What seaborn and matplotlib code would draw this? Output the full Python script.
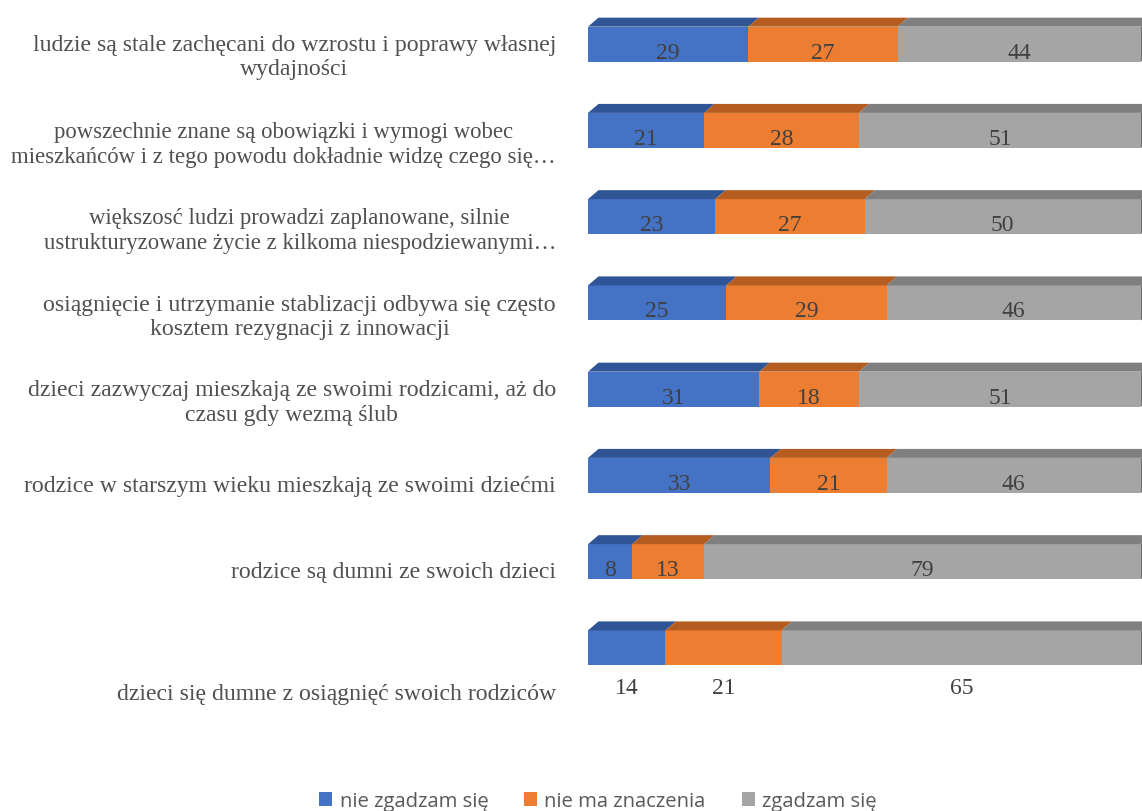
import numpy as np
import pandas as pd
import matplotlib.pyplot as plt
import seaborn as sns
from matplotlib.patches import Polygon
from matplotlib.transforms import ScaledTranslation

W, H = 1142, 812

statements = [
    "ludzie są stale zachęcani do wzrostu i poprawy własnej\nwydajności",
    "powszechnie znane są obowiązki i wymogi wobec\nmieszkańców i z tego powodu dokładnie widzę czego się…",
    "większosć ludzi prowadzi zaplanowane, silnie\nustrukturyzowane życie z kilkoma niespodziewanymi…",
    "osiągnięcie i utrzymanie stablizacji odbywa się często\nkosztem rezygnacji z innowacji",
    "dzieci zazwyczaj mieszkają ze swoimi rodzicami, aż do\nczasu gdy wezmą ślub",
    "rodzice w starszym wieku mieszkają ze swoimi dziećmi",
    "rodzice są dumni ze swoich dzieci",
    "dzieci się dumne z osiągnięć swoich rodziców",
]
disagree = [29, 21, 23, 25, 31, 33, 8, 14]
neutral = [27, 28, 27, 29, 18, 21, 13, 21]
agree = [44, 51, 50, 46, 51, 46, 79, 65]

series_names = ["nie zgadzam się", "nie ma znaczenia", "zgadzam się"]
front_colors = ["#4472C4", "#ED7D31", "#A5A5A5"]
top_colors = ["#2F5597", "#B55D21", "#7F7F7F"]

# how far labels sit below the bar centre, in pixels
label_drop = [8, 9.5, 9, 9.5, 8.5, 8, 7, 43]
value_drop = [8, 8, 8, 8, 8, 8, 8, 40]
label_size = [17.1, 16.4, 16.4, 17.1, 17.1, 17.1, 17.1, 17.1]

plt.rcParams['font.family'] = ['Liberation Serif', 'DejaVu Sans']

df = pd.DataFrame({"statement": statements, "disagree": disagree,
                   "neutral": neutral, "agree": agree})
cols = ["disagree", "neutral", "agree"]
lefts = df[cols].cumsum(axis=1).shift(1, axis=1).fillna(0)

fig = plt.figure(figsize=(W / 100, H / 100), dpi=100)
ax = fig.add_axes([588 / W, 1 - 692 / H, 553 / W, 690 / H])

for col, name, color in zip(cols, series_names, front_colors):
    sns.barplot(data=df, x=col, y="statement", left=lefts[col].values, color=color,
                saturation=1, width=0.405, label=name, ax=ax, legend=False, linewidth=0)

ax.set_xlim(0, 100)
ax.set_ylim(7.5, -0.5)
ax.set_xlabel("")
ax.set_ylabel("")
ax.xaxis.set_visible(False)
sns.despine(ax=ax, left=True, bottom=True)
ax.tick_params(axis="y", length=0, pad=23)

for lab, drop, size in zip(ax.get_yticklabels(), label_drop, label_size):
    lab.set_fontsize(size)
    lab.set_color("#505050")
    lab.set_multialignment("center")
    lab.set_linespacing(1.22)
    lab.set_transform(lab.get_transform() + ScaledTranslation(0, -drop / 100, fig.dpi_scale_trans))

# fake 3d: top face and right side built from the drawn bars
dx = 10.5 * 100 / 553
dy = 9 / 86.25
for container, top_c in zip(ax.containers, top_colors):
    for bar in container:
        x0, x1 = bar.get_x(), bar.get_x() + bar.get_width()
        y0 = bar.get_y()
        ax.add_patch(Polygon([(x0, y0), (x0 + dx, y0 - dy), (x1 + dx, y0 - dy), (x1, y0)],
                             closed=True, fc=top_c, ec="none", clip_on=False))
        if container is ax.containers[-1]:
            y1 = y0 + bar.get_height()
            ax.add_patch(Polygon([(x1, y0), (x1 + dx, y0 - dy), (x1 + dx, y1 - dy), (x1, y1)],
                                 closed=True, fc="#6E6E6E", ec="none", clip_on=False))

for container in ax.containers:
    for bar, drop in zip(container, value_drop):
        ax.annotate(f"{bar.get_width():.0f}",
                    (bar.get_x() + bar.get_width() / 2, bar.get_y() + bar.get_height() / 2),
                    xytext=(0, -drop * 0.72), textcoords="offset points",
                    ha="center", va="center", fontsize=17, color="#404040",
                    annotation_clip=False)

handles = [c.patches[0] for c in ax.containers]
fig.legend(handles, series_names, loc="center", bbox_to_anchor=(598 / W, 1 - 802 / H),
           ncol=3, frameon=False, handlelength=0.64, handleheight=0.64, handletextpad=0.35,
           columnspacing=1.78, prop={"family": "Open Sans", "size": 14.6}, labelcolor="#595959")

fig.savefig("out.png", dpi=100)
